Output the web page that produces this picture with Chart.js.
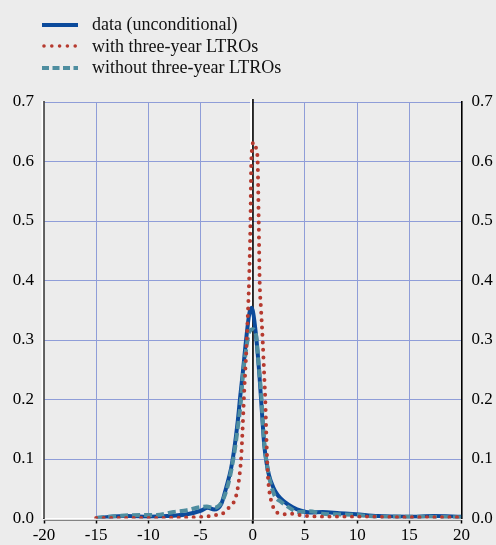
<!DOCTYPE html>
<html>
<head>
<meta charset="utf-8">
<script src="https://cdn.jsdelivr.net/npm/chart.js@4.4.1/dist/chart.umd.min.js"></script>
<style>
  body { margin: 0; background: #ececec; }
  #wrap { position: relative; width: 496px; height: 545px; }
  canvas { position: absolute; left: 0; top: 0; }
  #legend { position: absolute; left: 42px; top: 14px; font-family: "Liberation Serif", "Times New Roman", serif; font-size: 18px; color: #111; }
  .row { height: 21.5px; display: flex; align-items: center; white-space: nowrap; }
  .row svg { width: 36px; height: 8px; margin-right: 14px; }
</style>
</head>
<body>
<div id="wrap">
  <canvas id="c" width="496" height="545"></canvas>
  <div id="legend"></div>
</div>
<script>
// series names
const seriesNames = ["data (unconditional)", "with three-year LTROs", "without three-year LTROs"];

// data (unconditional)
const dataX = [-15, -12, -10, -8.2, -6.3, -5, -4.3, -3.7, -3.0, -2.56, -2.08, -1.76, -1.44, -1.2, -0.96, -0.64, -0.32, -0.1, 0.05, 0.3, 0.5, 0.65, 0.8, 0.95, 1.1, 1.3, 1.55, 1.95, 2.4, 3.04, 3.83, 4.63, 5.5, 6.7, 8.3, 9.9, 12, 15, 17.3, 20];
const dataY = [0.001, 0.004, 0.003, 0.004, 0.007, 0.013, 0.018, 0.015, 0.025, 0.051, 0.084, 0.118, 0.163, 0.205, 0.244, 0.300, 0.345, 0.354, 0.345, 0.310, 0.272, 0.238, 0.200, 0.160, 0.124, 0.096, 0.073, 0.053, 0.039, 0.028, 0.019, 0.013, 0.010, 0.011, 0.009, 0.007, 0.004, 0.003, 0.004, 0.003];

// with three-year LTROs
const withX = [-15, -12, -9, -6, -4.7, -4.0, -3.5, -2.9, -2.2, -1.7, -1.45, -1.25, -1.1, -1.0, -0.9, -0.8, -0.65, -0.5, -0.35, -0.22, -0.14, 0.08, 0.35, 0.47, 0.57, 0.66, 0.8, 0.95, 1.1, 1.2, 1.3, 1.4, 1.5, 1.65, 1.85, 2.1, 2.6, 3.2, 3.8, 4.8, 7.4, 10, 15, 20];
const withY = [0.001, 0.001, 0.001, 0.002, 0.003, 0.0045, 0.006, 0.008, 0.020, 0.032, 0.050, 0.075, 0.105, 0.140, 0.180, 0.220, 0.270, 0.330, 0.400, 0.500, 0.600, 0.632, 0.620, 0.600, 0.500, 0.400, 0.350, 0.300, 0.240, 0.200, 0.140, 0.090, 0.060, 0.039, 0.025, 0.014, 0.008, 0.007, 0.008, 0.005, 0.003, 0.003, 0.002, 0.002];

// without three-year LTROs
const withoutX = [-15, -13, -10.8, -9.2, -7.6, -6.3, -5.05, -4.4, -3.8, -3.2, -2.56, -2.08, -1.7, -1.44, -1.12, -0.96, -0.73, -0.32, 0, 0.32, 0.5, 0.67, 0.83, 0.96, 1.12, 1.37, 1.6, 2.08, 2.7, 3.35, 4.3, 5.4, 6.7, 8, 9.9, 12, 15, 20];
const withoutY = [0.001, 0.004, 0.006, 0.006, 0.011, 0.014, 0.019, 0.020, 0.018, 0.022, 0.045, 0.079, 0.118, 0.152, 0.200, 0.238, 0.272, 0.314, 0.318, 0.308, 0.272, 0.238, 0.205, 0.163, 0.124, 0.090, 0.067, 0.039, 0.028, 0.020, 0.011, 0.012, 0.008, 0.007, 0.006, 0.003, 0.003, 0.002];

// axis ticks
const xTicks = [-20, -15, -10, -5, 0, 5, 10, 15, 20];
const yTicks = [0, 0.1, 0.2, 0.3, 0.4, 0.5, 0.6, 0.7];

const BLUE = '#0b4a9b';
const RED = '#b63a2f';
const TEAL = '#4f8ea0';
const GRID = '#8f9dd8';
const FONT = { family: '"Liberation Serif", "Times New Roman", serif', size: 17 };

function pts(xs, ys) {
  return xs.map((x, i) => ({ x: x, y: ys[i] }));
}

// legend
const legendStyles = [
  '<line x1="0" y1="4" x2="36" y2="4" stroke="' + BLUE + '" stroke-width="4"/>',
  '<line x1="2" y1="4" x2="36" y2="4" stroke="' + RED + '" stroke-width="3.6" stroke-linecap="round" stroke-dasharray="0 7.8"/>',
  '<line x1="0" y1="4" x2="36" y2="4" stroke="' + TEAL + '" stroke-width="4" stroke-dasharray="7 3.5"/>'
];
document.getElementById('legend').innerHTML = seriesNames.map((n, i) =>
  '<div class="row"><svg viewBox="0 0 36 8">' + legendStyles[i] + '</svg><span>' + n + '</span></div>').join('');

// extra axis lines: zero line, white/dark bevels
const axisDecor = {
  id: 'axisDecor',
  beforeDatasetsDraw(chart) {
    const { ctx, chartArea: a, scales } = chart;
    const x0 = scales.x.getPixelForValue(0);
    function line(x1, y1, x2, y2) {
      ctx.beginPath(); ctx.moveTo(x1, y1); ctx.lineTo(x2, y2); ctx.stroke();
    }
    ctx.save();
    ctx.strokeStyle = '#ffffff';
    ctx.lineWidth = 2;
    line(x0 - 1.6, a.top - 3, x0 - 1.6, a.bottom);
    line(a.left - 1.6, a.top - 1, a.left - 1.6, a.bottom);
    ctx.strokeStyle = '#000000';
    ctx.lineWidth = 1.6;
    line(x0 + 0.2, a.top - 3, x0 + 0.2, a.bottom + 5);
    ctx.strokeStyle = '#6a6a6a';
    ctx.lineWidth = 1;
    line(a.left, a.bottom + 1.8, a.right, a.bottom + 1.8);
    ctx.restore();
  }
};

new Chart(document.getElementById('c'), {
  type: 'line',
  data: {
    datasets: [
      { label: seriesNames[0], data: pts(dataX, dataY), borderColor: BLUE, borderWidth: 4, order: 3 },
      { label: seriesNames[1], data: pts(withX, withY), borderColor: RED, borderWidth: 4, borderDash: [0, 7.5], borderCapStyle: 'round', order: 1 },
      { label: seriesNames[2], data: pts(withoutX, withoutY), borderColor: TEAL, borderWidth: 4, borderDash: [8, 4], order: 2 }
    ]
  },
  options: {
    responsive: false,
    animation: false,
    layout: { padding: { top: 102 } },
    elements: { point: { radius: 0 }, line: { cubicInterpolationMode: 'monotone', fill: false } },
    plugins: { legend: { display: false }, tooltip: { enabled: false } },
    scales: {
      x: {
        type: 'linear', min: -20, max: 20,
        afterBuildTicks: s => { s.ticks = xTicks.map(v => ({ value: v })); },
        afterFit: s => { s.height = 26.5; },
        ticks: { color: '#000', font: FONT, padding: 2, maxRotation: 0 },
        grid: {
          color: c => (c.tick && (c.tick.value === -20 || c.tick.value === 0 || c.tick.value === 20)) ? 'rgba(0,0,0,0)' : GRID,
          lineWidth: 1, tickColor: '#000', tickLength: 5, tickWidth: 1.5
        },
        border: { color: '#ffffff', width: 2 }
      },
      y: {
        position: 'left', min: 0, max: 0.7,
        afterBuildTicks: s => { s.ticks = yTicks.map(v => ({ value: v })); },
        afterFit: s => { s.width = 44; },
        ticks: { color: '#000', font: FONT, padding: 10, callback: v => v.toFixed(1) },
        grid: {
          color: c => (c.tick && c.tick.value === 0) ? 'rgba(0,0,0,0)' : GRID,
          lineWidth: 1, drawTicks: false
        },
        border: { color: '#000', width: 1.6 }
      },
      y2: {
        position: 'right', min: 0, max: 0.7,
        afterBuildTicks: s => { s.ticks = yTicks.map(v => ({ value: v })); },
        afterFit: s => { s.width = 34.5; },
        ticks: { color: '#000', font: FONT, padding: 10, callback: v => v.toFixed(1) },
        grid: { display: false, drawTicks: false },
        border: { color: '#000', width: 1.6 }
      }
    }
  },
  plugins: [axisDecor]
});
</script>
</body>
</html>
